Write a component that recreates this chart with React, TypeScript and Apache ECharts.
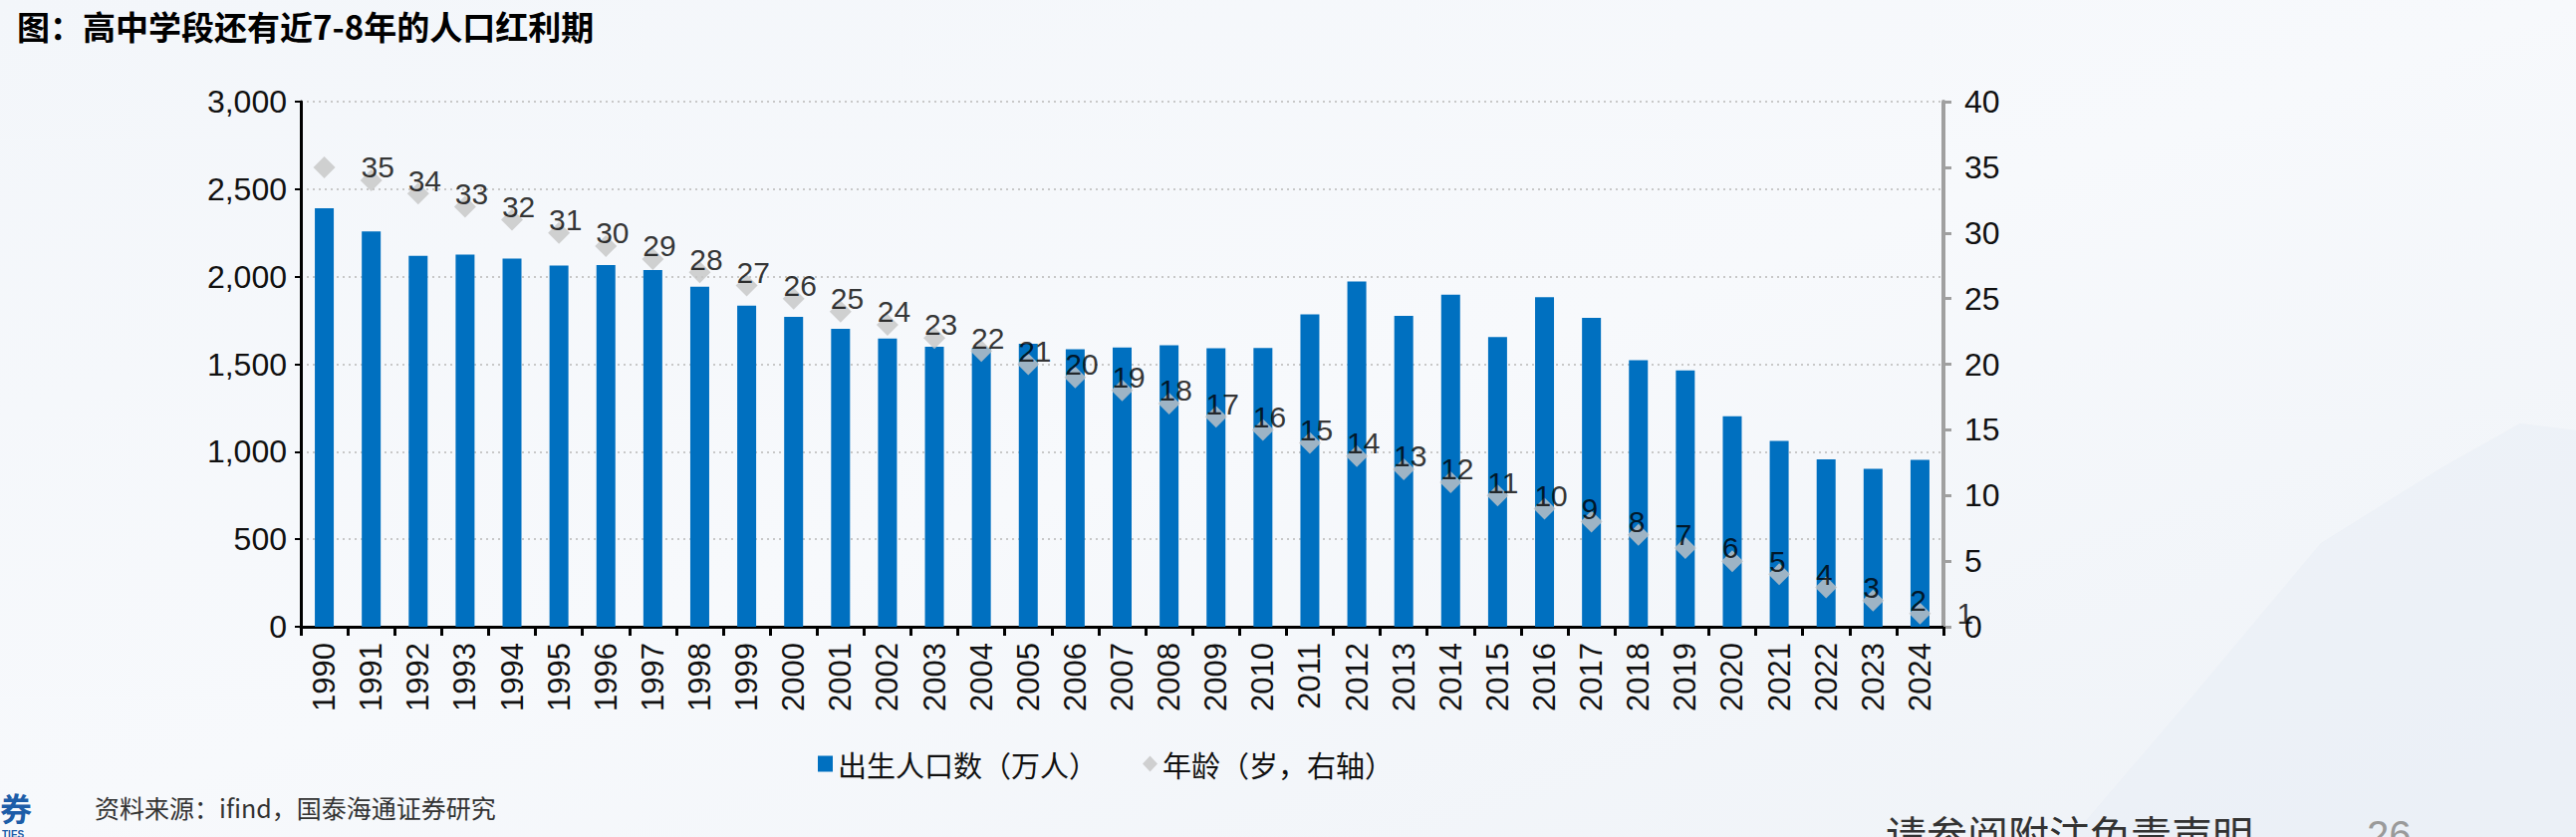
import React, { useEffect, useRef } from "react";
import * as echarts from "echarts";

// 年份
const years: string[] = [
  "1990", "1991", "1992", "1993", "1994", "1995", "1996", "1997", "1998", "1999",
  "2000", "2001", "2002", "2003", "2004", "2005", "2006", "2007", "2008", "2009",
  "2010", "2011", "2012", "2013", "2014", "2015", "2016", "2017", "2018", "2019",
  "2020", "2021", "2022", "2023", "2024",
];

// 出生人口数（万人）
const births: number[] = [
  2391, 2258, 2119, 2126, 2104, 2063, 2067, 2038, 1942, 1834,
  1771, 1702, 1647, 1599, 1593, 1617, 1585, 1595, 1608, 1591,
  1592, 1785, 1973, 1776, 1897, 1655, 1883, 1765, 1523, 1465,
  1202, 1062, 956, 902, 954,
];

// 年龄（岁，右轴）
const ages: number[] = [
  35, 34, 33, 32, 31, 30, 29, 28, 27, 26,
  25, 24, 23, 22, 21, 20, 19, 18, 17, 16,
  15, 14, 13, 12, 11, 10, 9, 8, 7, 6,
  5, 4, 3, 2, 1,
];

const seriesNames = ["出生人口数（万人）", "年龄（岁，右轴）"];

const NUM_FONT = "'Liberation Sans', Arial, 'Noto Sans CJK SC', sans-serif";
const CJK_FONT = "'Noto Sans CJK SC', 'Microsoft YaHei', sans-serif";

export default function App() {
  const ref = useRef<HTMLDivElement>(null);

  useEffect(() => {
    if (!ref.current) return;
    const chart = echarts.init(ref.current, null, { renderer: "svg" });

    const option: any = {
      animation: false,
      backgroundColor: {
        type: "linear",
        x: 0,
        y: 0,
        x2: 1,
        y2: 1,
        colorStops: [
          { offset: 0, color: "#F3F6FA" },
          { offset: 0.5, color: "#F7F9FC" },
          { offset: 1, color: "#EEF2F7" },
        ],
      },
      title: {
        text: "图：高中学段还有近7-8年的人口红利期",
        left: 12,
        top: 4,
        textStyle: {
          fontSize: 33,
          fontWeight: "bold",
          color: "#000",
          fontFamily: CJK_FONT,
        },
      },
      legend: {
        left: 816,
        top: 747,
        itemWidth: 15,
        itemHeight: 16,
        itemGap: 45,
        textStyle: { fontSize: 29, color: "#111", fontFamily: CJK_FONT },
        data: [
          { name: seriesNames[0], icon: "rect" },
          { name: seriesNames[1], icon: "diamond" },
        ],
      },
      grid: { left: 302, right: 635, top: 102, bottom: 211 },
      xAxis: {
        type: "category",
        data: years,
        boundaryGap: true,
        axisLine: { lineStyle: { color: "#000", width: 3 } },
        axisTick: { show: true, length: 9, lineStyle: { color: "#000", width: 3 } },
        axisLabel: {
          rotate: 90,
          interval: 0,
          fontSize: 31,
          color: "#111",
          margin: 16,
          fontFamily: NUM_FONT,
        },
      },
      yAxis: [
        {
          type: "value",
          min: 0,
          max: 3000,
          interval: 500,
          position: "left",
          axisLine: { show: true, lineStyle: { color: "#000", width: 3 } },
          axisTick: { show: true, length: 6, lineStyle: { color: "#000", width: 2 } },
          axisLabel: {
            fontSize: 32,
            color: "#111",
            margin: 14,
            fontFamily: NUM_FONT,
            formatter: (v: number) => v.toLocaleString("en-US"),
          },
          splitLine: {
            show: true,
            lineStyle: { color: "#C8C8C8", type: [2, 4], width: 2 },
          },
        },
        {
          type: "value",
          min: 0,
          max: 40,
          interval: 5,
          position: "right",
          axisLine: { show: true, lineStyle: { color: "#A0A0A0", width: 4 } },
          axisTick: { show: true, length: 8, lineStyle: { color: "#A0A0A0", width: 3 } },
          axisLabel: { fontSize: 32, color: "#111", margin: 21, fontFamily: NUM_FONT },
          splitLine: { show: false },
        },
      ],
      series: [
        {
          name: seriesNames[0],
          type: "bar",
          data: births,
          barWidth: 19,
          itemStyle: { color: "#0070C0" },
        },
        {
          name: seriesNames[1],
          type: "scatter",
          yAxisIndex: 1,
          data: ages,
          symbol: "diamond",
          symbolSize: 22,
          z: 3,
          itemStyle: { color: "#C5C5C5" },
          label: {
            show: true,
            position: "right",
            distance: 26,
            fontSize: 30,
            color: "#000",
            fontFamily: NUM_FONT,
          },
        },
      ],
      graphic: [
        {
          type: "polygon",
          z: -10,
          silent: true,
          shape: {
            points: [
              [2080, 840], [2200, 700], [2330, 545], [2450, 470],
              [2530, 425], [2586, 432], [2586, 840],
            ],
          },
          style: { fill: "#E8EEF5", opacity: 0.5 },
        },
        {
          type: "text",
          left: 0,
          top: 794,
          style: {
            text: "券",
            fontSize: 32,
            fontWeight: "bold",
            fill: "#1D5DA8",
            fontFamily: CJK_FONT,
          },
        },
        {
          type: "text",
          left: 2,
          top: 832,
          style: {
            text: "TIES",
            fontSize: 10,
            fontWeight: "bold",
            fill: "#1D5DA8",
            fontFamily: NUM_FONT,
          },
        },
        {
          type: "text",
          left: 95,
          top: 797,
          style: {
            text: "资料来源：ifind，国泰海通证券研究",
            fontSize: 25,
            fill: "#333",
            fontFamily: CJK_FONT,
          },
        },
        {
          type: "text",
          left: 1893,
          top: 815,
          style: {
            text: "请参阅附注免责声明",
            fontSize: 41,
            fill: "#333",
            fontFamily: CJK_FONT,
          },
        },
        {
          type: "text",
          left: 2376,
          top: 818,
          style: {
            text: "26",
            fontSize: 40,
            fill: "#9A9A9A",
            fontFamily: NUM_FONT,
          },
        },
      ],
    };

    chart.setOption(option);
    return () => {
      chart.dispose();
    };
  }, []);

  return (
    <div
      ref={ref}
      style={{ position: "fixed", left: 0, top: 0, width: 2586, height: 840 }}
    />
  );
}
